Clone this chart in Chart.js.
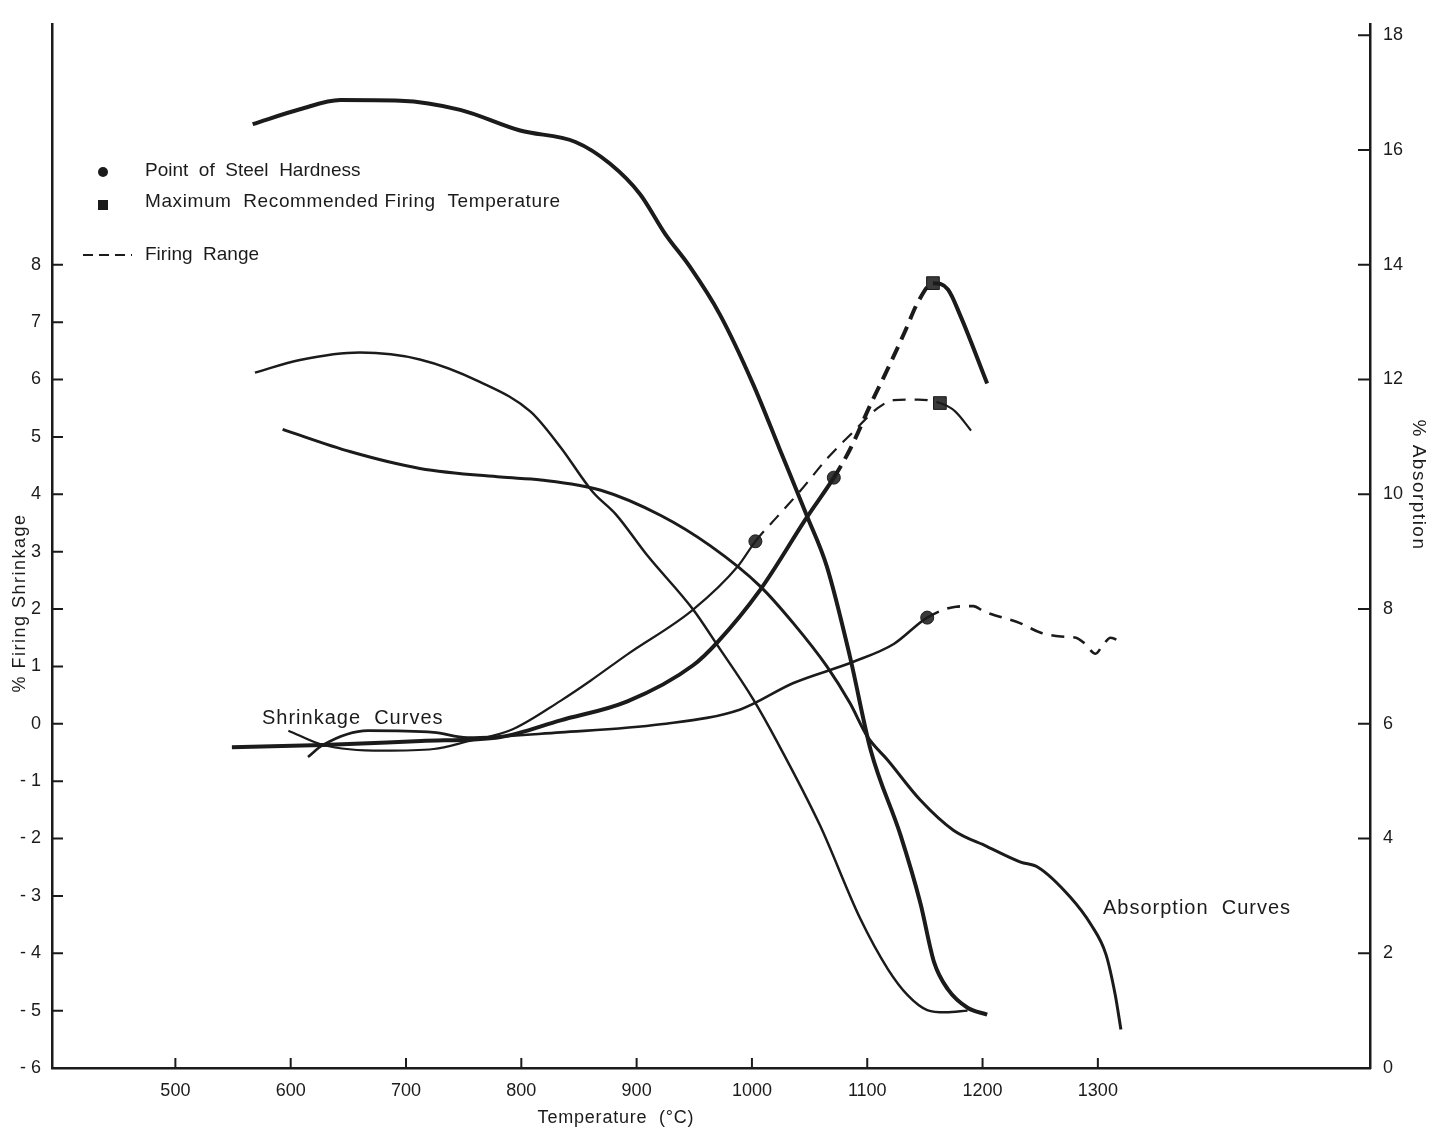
<!DOCTYPE html>
<html>
<head>
<meta charset="utf-8">
<script src="https://cdn.jsdelivr.net/npm/chart.js@4.4.1/dist/chart.umd.min.js"></script>
<style>
  html, body { margin: 0; padding: 0; background: #fff; }
  #wrap { width: 1435px; height: 1130px; }
</style>
</head>
<body>
<div id="wrap"><canvas id="chart" width="1435" height="1130"></canvas></div>
<script>
// Firing shrinkage / absorption vs temperature

// axis ticks
const tempTicks = [500, 600, 700, 800, 900, 1000, 1100, 1200, 1300];
const shrinkTicks = [-6, -5, -4, -3, -2, -1, 0, 1, 2, 3, 4, 5, 6, 7, 8];
const absorbTicks = [0, 2, 4, 6, 8, 10, 12, 14, 16, 18];

// absorption curves (% absorption, right axis)
const absTemp1 = [567, 608, 643, 695, 747, 799, 847, 877, 903, 925, 946, 972, 1001, 1024, 1048, 1065, 1085, 1103, 1129, 1146, 1158, 1170, 1187, 1204];
const absorb1 = [16.45, 16.71, 16.87, 16.86, 16.70, 16.34, 16.14, 15.76, 15.23, 14.53, 13.97, 13.14, 11.92, 10.79, 9.61, 8.74, 7.17, 5.54, 4.05, 2.88, 1.84, 1.37, 1.05, 0.93];

const absTemp2 = [569, 608, 660, 712, 764, 808, 834, 862, 882, 909, 949, 970, 1001, 1022, 1059, 1094, 1118, 1135, 1152, 1168, 1187];
const absorb2 = [12.12, 12.34, 12.47, 12.35, 11.96, 11.44, 10.82, 10.04, 9.65, 8.94, 7.99, 7.37, 6.43, 5.68, 4.23, 2.60, 1.72, 1.27, 1.01, 0.97, 1.00];

const absTemp3 = [593, 652, 712, 782, 817, 869, 921, 964, 1007, 1036, 1065, 1085, 1100, 1118, 1146, 1175, 1204, 1233, 1248, 1276, 1294, 1307, 1315, 1320];
const absorb3 = [11.13, 10.74, 10.45, 10.30, 10.25, 10.07, 9.63, 9.10, 8.40, 7.75, 7.00, 6.36, 5.78, 5.36, 4.67, 4.14, 3.86, 3.59, 3.50, 2.98, 2.50, 1.98, 1.28, 0.67];

// shrinkage curves (% firing shrinkage, left axis)
const shrinkTempA = [615, 628, 667, 724, 753, 834, 921, 990, 1036, 1088, 1123, 1152, 1177, 1192, 1201, 1233, 1250, 1268, 1281, 1288, 1298, 1304, 1311, 1322];
const shrinkA = [-0.58, -0.37, -0.12, -0.15, -0.24, -0.15, -0.01, 0.25, 0.71, 1.08, 1.39, 1.85, 2.04, 2.05, 1.96, 1.75, 1.59, 1.52, 1.50, 1.41, 1.22, 1.36, 1.50, 1.39];

const shrinkTempB = [549, 628, 713, 782, 834, 892, 949, 970, 1007, 1048, 1071, 1085, 1103, 1120, 1133, 1144, 1157, 1170, 1181, 1204];
const shrinkB = [-0.41, -0.37, -0.30, -0.23, 0.06, 0.39, 1.02, 1.42, 2.33, 3.61, 4.29, 4.78, 5.57, 6.28, 6.85, 7.35, 7.68, 7.57, 7.10, 5.93];

const shrinkTempC = [598, 628, 680, 724, 753, 791, 834, 860, 892, 949, 988, 1003, 1022, 1042, 1066, 1088, 1109, 1123, 1144, 1163, 1176, 1190];
const shrinkC = [-0.12, -0.37, -0.47, -0.44, -0.31, -0.11, 0.40, 0.75, 1.21, 1.99, 2.75, 3.18, 3.61, 4.06, 4.64, 5.09, 5.50, 5.64, 5.65, 5.59, 5.45, 5.11];

// firing ranges (temperature from / to)
const rangeA = [1152, 1322];
const rangeB = [1071, 1157];
const rangeC = [1003, 1163];

// point of steel hardness
const hardTemp = [1003, 1071, 1152];
const hardShrink = [3.18, 4.29, 1.85];

// maximum recommended firing temperature
const maxTemp = [1157, 1163];
const maxShrink = [7.68, 5.59];

const ink = '#1b1b1b';
const family = '"Liberation Sans", Arial, Helvetica, sans-serif';

function toPoints(xs, ys) {
    return xs.map((x, i) => ({ x: x, y: ys[i] }));
}

function dashIn(range, dash) {
    return ctx => (ctx.p0.parsed.x >= range[0] - 0.5 && ctx.p1.parsed.x <= range[1] + 0.5) ? dash : undefined;
}

function curve(xs, ys, axis, width, range) {
    const ds = {
        type: 'line',
        data: toPoints(xs, ys),
        yAxisID: axis,
        borderColor: ink,
        borderWidth: width,
        pointRadius: 0,
        cubicInterpolationMode: 'monotone',
        fill: false
    };
    if (range) {
        ds.segment = { borderDash: dashIn(range, width > 3 ? [14, 8] : [13, 9]) };
    }
    return ds;
}

// inward tick marks, drawn from the scales
const innerTicks = {
    id: 'innerTicks',
    afterDraw(chart) {
        const { ctx, chartArea: a, scales } = chart;
        ctx.save();
        ctx.strokeStyle = ink;
        ctx.lineWidth = 2;
        ctx.beginPath();
        scales.x.ticks.forEach(t => {
            const x = scales.x.getPixelForValue(t.value);
            ctx.moveTo(x, a.bottom);
            ctx.lineTo(x, a.bottom - 10);
        });
        scales.yL.ticks.forEach(t => {
            const y = scales.yL.getPixelForValue(t.value);
            ctx.moveTo(a.left, y);
            ctx.lineTo(a.left + 11, y);
        });
        scales.yR.ticks.forEach(t => {
            const y = scales.yR.getPixelForValue(t.value);
            ctx.moveTo(a.right - 12, y);
            ctx.lineTo(a.right, y);
        });
        ctx.stroke();
        ctx.restore();
    }
};

function spaced(ctx, size, spacing) {
    ctx.font = size + 'px ' + family;
    ctx.letterSpacing = spacing + 'px';
}

// legend, curve labels and axis titles
const notes = {
    id: 'notes',
    afterDraw(chart) {
        const ctx = chart.ctx;
        ctx.save();
        ctx.fillStyle = ink;
        ctx.strokeStyle = ink;
        ctx.textBaseline = 'middle';
        ctx.textAlign = 'left';

        // legend
        ctx.beginPath();
        ctx.arc(103, 172, 5, 0, Math.PI * 2);
        ctx.fill();
        ctx.fillRect(98, 200, 10, 10);
        ctx.lineWidth = 2;
        ctx.setLineDash([10, 6]);
        ctx.beginPath();
        ctx.moveTo(83, 255);
        ctx.lineTo(132, 255);
        ctx.stroke();
        ctx.setLineDash([]);

        spaced(ctx, 19, 0);
        ctx.fillText('Point  of  Steel  Hardness', 145, 171);
        spaced(ctx, 19, 0.6);
        ctx.fillText('Maximum  Recommended Firing  Temperature', 145, 202);
        spaced(ctx, 19, 0);
        ctx.fillText('Firing  Range', 145, 255);

        spaced(ctx, 20, 1);
        ctx.fillText('Shrinkage  Curves', 262, 718);
        ctx.fillText('Absorption  Curves', 1103, 908);

        spaced(ctx, 18, 0.8);
        ctx.textAlign = 'center';
        ctx.fillText('Temperature  (°C)', 616, 1118);

        spaced(ctx, 18, 1.5);
        ctx.save();
        ctx.translate(20, 603);
        ctx.rotate(-Math.PI / 2);
        ctx.fillText('% Firing Shrinkage', 0, 0);
        ctx.restore();

        spaced(ctx, 19, 1.5);
        ctx.save();
        ctx.translate(1418, 485);
        ctx.rotate(Math.PI / 2);
        ctx.fillText('% Absorption', 0, 0);
        ctx.restore();

        ctx.restore();
    }
};

function tickFont() {
    return { family: family, size: 18 };
}

new Chart(document.getElementById('chart').getContext('2d'), {
    data: {
        datasets: [
            curve(absTemp1, absorb1, 'yR', 4),
            curve(absTemp2, absorb2, 'yR', 2.5),
            curve(absTemp3, absorb3, 'yR', 3),
            curve(shrinkTempA, shrinkA, 'yL', 2.6, rangeA),
            curve(shrinkTempB, shrinkB, 'yL', 4, rangeB),
            curve(shrinkTempC, shrinkC, 'yL', 2.2, rangeC),
            {
                type: 'scatter',
                data: toPoints(hardTemp, hardShrink),
                yAxisID: 'yL',
                pointStyle: 'circle',
                pointRadius: 6.5,
                backgroundColor: '#3a3a3a',
                borderColor: ink,
                borderWidth: 1
            },
            {
                type: 'scatter',
                data: toPoints(maxTemp, maxShrink),
                yAxisID: 'yL',
                pointStyle: 'rect',
                pointRadius: 9,
                backgroundColor: '#3a3a3a',
                borderColor: ink,
                borderWidth: 1
            }
        ]
    },
    options: {
        responsive: false,
        animation: false,
        layout: { padding: { top: 18, left: 0, right: 0, bottom: 0 } },
        plugins: {
            legend: { display: false },
            tooltip: { enabled: false }
        },
        scales: {
            x: {
                type: 'linear',
                position: 'bottom',
                min: 393,
                max: 1536,
                grid: { display: false, drawTicks: false },
                border: { display: true, color: ink, width: 2.5 },
                afterBuildTicks: s => { s.ticks = tempTicks.map(v => ({ value: v })); },
                afterFit: s => { s.height = 62; },
                ticks: {
                    color: ink,
                    font: tickFont(),
                    padding: 12,
                    maxRotation: 0,
                    autoSkip: false,
                    callback: v => String(v)
                }
            },
            yL: {
                type: 'linear',
                position: 'left',
                min: -6,
                max: 12.2,
                grid: { display: false, drawTicks: false },
                border: { display: true, color: ink, width: 2.5 },
                afterBuildTicks: s => { s.ticks = shrinkTicks.map(v => ({ value: v })); },
                afterFit: s => { s.width = 52; },
                ticks: {
                    color: ink,
                    font: tickFont(),
                    padding: 11,
                    autoSkip: false,
                    callback: v => v < 0 ? '- ' + Math.abs(v) : String(v)
                }
            },
            yR: {
                type: 'linear',
                position: 'right',
                min: 0,
                max: 18.2,
                grid: { display: false, drawTicks: false },
                border: { display: true, color: ink, width: 2.5 },
                afterBuildTicks: s => { s.ticks = absorbTicks.map(v => ({ value: v })); },
                afterFit: s => { s.width = 65; },
                ticks: {
                    color: ink,
                    font: tickFont(),
                    padding: 13,
                    autoSkip: false,
                    callback: v => String(v)
                }
            }
        }
    },
    plugins: [innerTicks, notes]
});
</script>
</body>
</html>
